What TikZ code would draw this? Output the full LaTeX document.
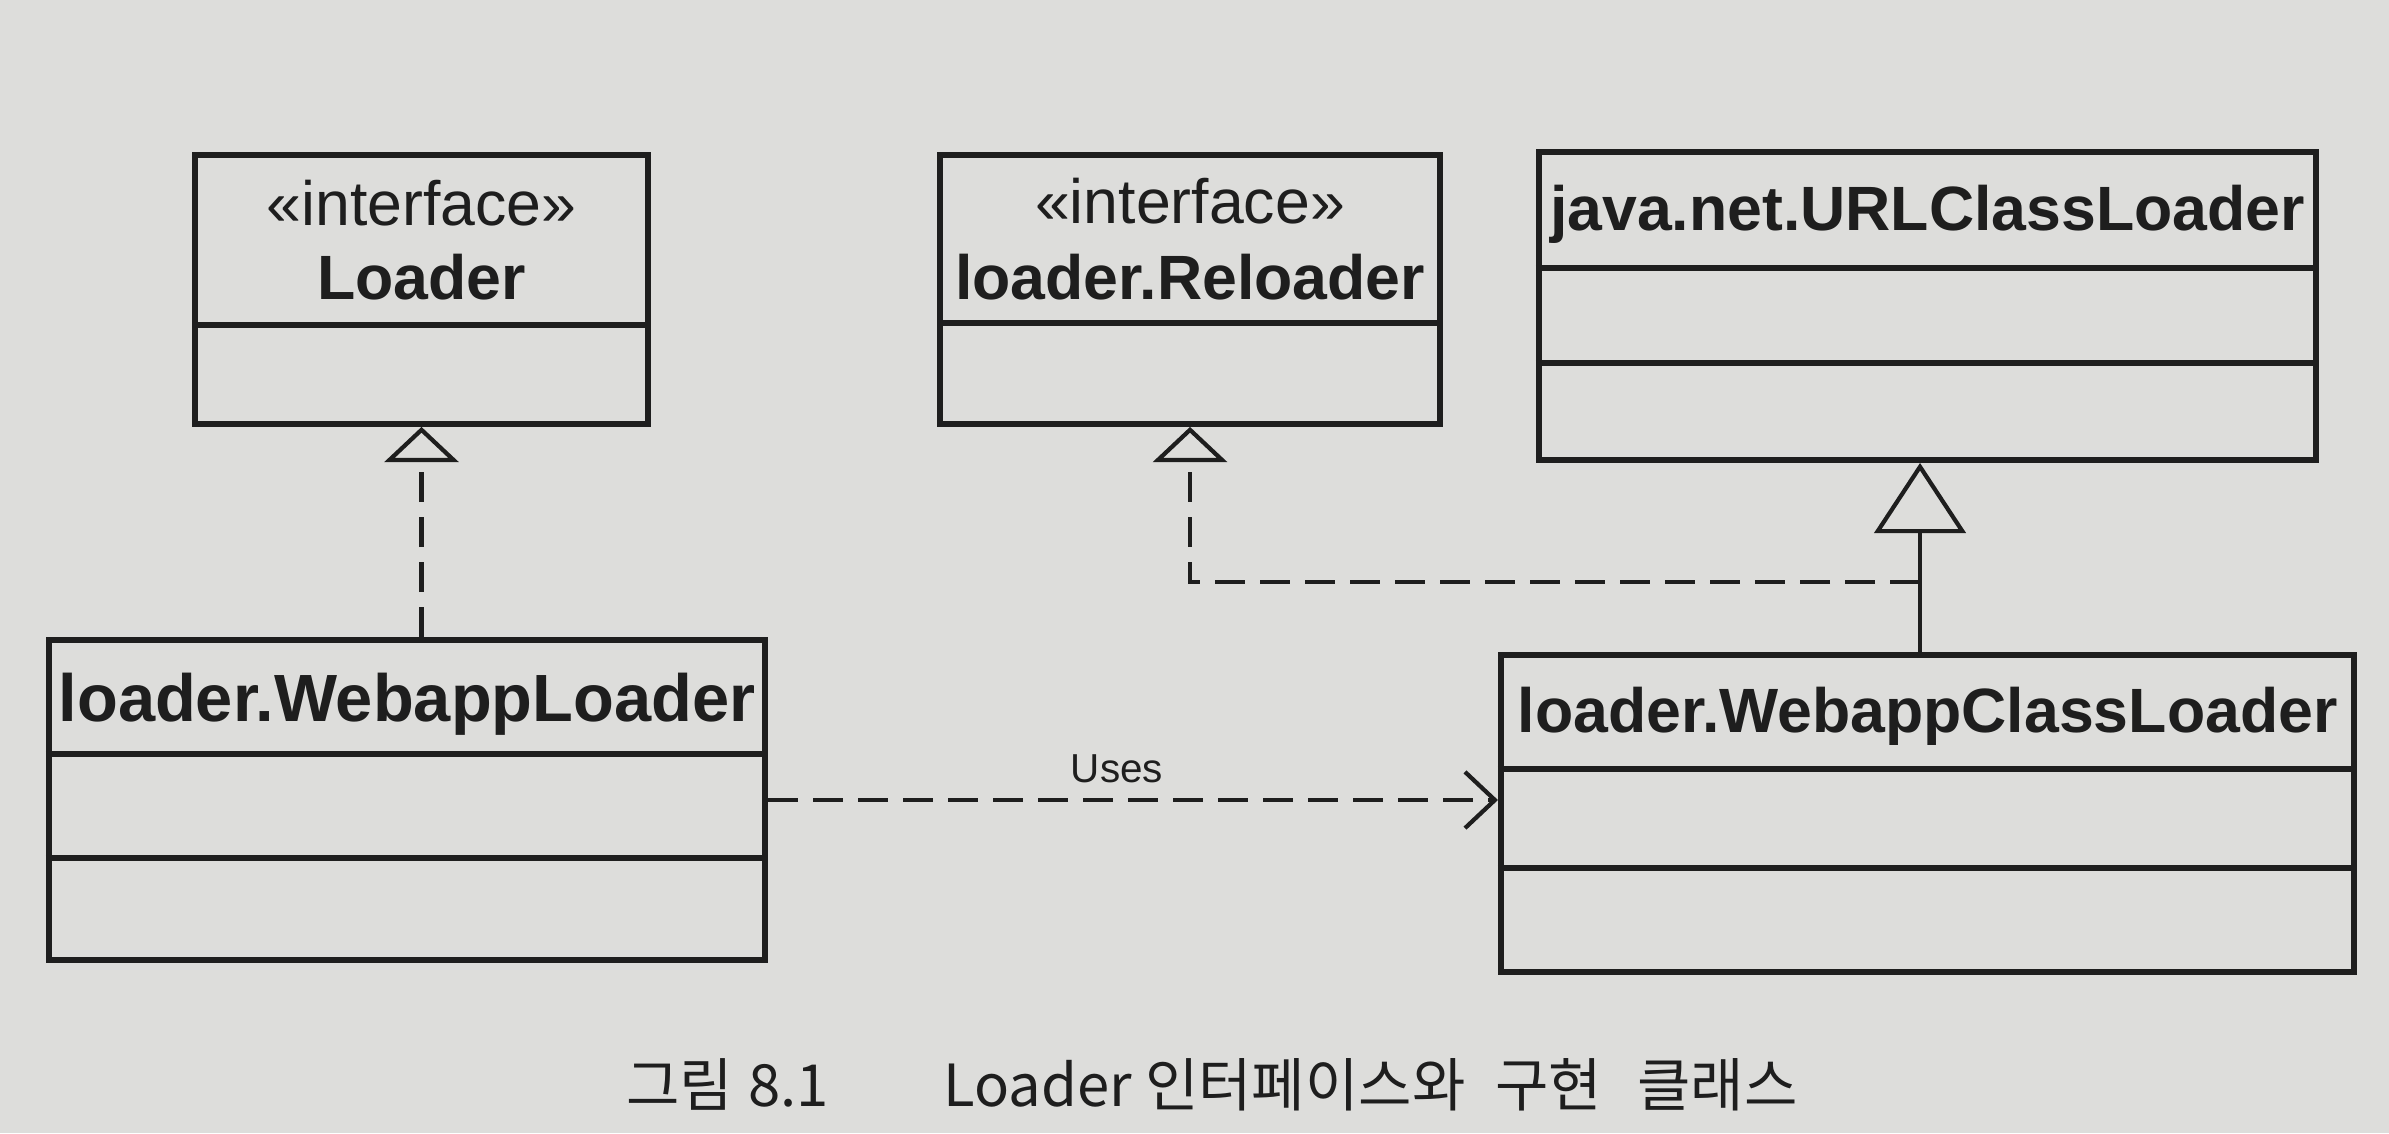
\documentclass[tikz,border=0pt]{standalone}
\usepackage{fontspec}
\setmainfont{Liberation Sans}
\newfontfamily\hangul{Noto Sans CJK KR}
\usetikzlibrary{arrows.meta}

\definecolor{ink}{RGB}{30,30,30}
\definecolor{paper}{RGB}{221,221,219}

\tikzset{
  classbox/.style={draw=ink, line width=1.6pt, inner sep=0pt},
  classname/.style={text=ink, inner sep=0pt, font=\fontsize{17.8}{20}\selectfont\bfseries},
  stereotype/.style={text=ink, inner sep=0pt, font=\fontsize{17.8}{20}\selectfont},
  implements/.style={draw=ink, line width=1.2pt, dash pattern=on 8.5pt off 4.3pt,
    -{Triangle[open, length=10pt, width=21pt]}},
  extends/.style={draw=ink, line width=1.2pt, -{Triangle[open, length=20pt, width=26pt]}},
  uses/.style={draw=ink, line width=1.2pt, dash pattern=on 8.5pt off 4.3pt,
    -{Straight Barb[length=8.5pt, width=16pt]}}
}

\begin{document}
\begin{tikzpicture}[x=0.01cm, y=-0.01cm]
\fill[paper] (0,0) rectangle (2389,1133);

% class boxes
\node[classbox, minimum width=4.53cm, minimum height=2.69cm] (Loader) at (421.5,289.5) {};
\node[classbox, minimum width=5cm, minimum height=2.69cm] (Reloader) at (1190,289.5) {};
\node[classbox, minimum width=7.77cm, minimum height=3.08cm] (URLClassLoader) at (1927.5,306) {};
\node[classbox, minimum width=7.16cm, minimum height=3.2cm] (WebappLoader) at (407,800) {};
\node[classbox, minimum width=8.53cm, minimum height=3.17cm] (WebappClassLoader) at (1927.5,813.5) {};

\foreach \cls/\yy in {Loader/325, Reloader/323, URLClassLoader/268, URLClassLoader/363,
    WebappLoader/754, WebappLoader/858, WebappClassLoader/769, WebappClassLoader/868}
  \draw[classbox] (\cls.west |- 0,\yy) -- (\cls.east |- 0,\yy);

% names
\node[stereotype] (LoaderStereo) at (421.5,203) {«interface»};
\node[classname] (LoaderName) at (421.5,277) {Loader};
\node[stereotype] (ReloaderStereo) at (1190,201) {«interface»};
\node[classname] (ReloaderName) at (1190,277) {loader.Reloader};
\node[classname] (URLName) at (1927.5,214) {java.net.URLClassLoader};
\node[classname, font=\fontsize{19}{21}\selectfont\bfseries] (WebappName) at (407,704) {loader.WebappLoader};
\node[classname] (WebappCLName) at (1927.5,716) {loader.WebappClassLoader};

% relations
\coordinate (joint) at (1920,582);
\draw[implements] (Loader.south |- WebappLoader.north) -- (Loader.south);
\draw[extends] (joint |- WebappClassLoader.north) -- (joint |- URLClassLoader.south);
\draw[implements] (joint) -- (joint -| Reloader.south) -- (Reloader.south);
\draw[uses] (WebappLoader.east |- 0,800) -- (WebappClassLoader.west |- 0,800);
\node[text=ink, font=\fontsize{11.5}{13}\selectfont] (UsesLabel) at (1117,769) {Uses};

% caption
\node[text=ink, font=\hangul\fontsize{16.5}{19}\selectfont] (Caption) at (1212,1085)
  {그림\hspace{0.15cm}8.1\hspace{1.15cm}Loader 인터페이스와\hspace{0.3cm}구현\hspace{0.35cm}클래스};
\end{tikzpicture}
\end{document}
